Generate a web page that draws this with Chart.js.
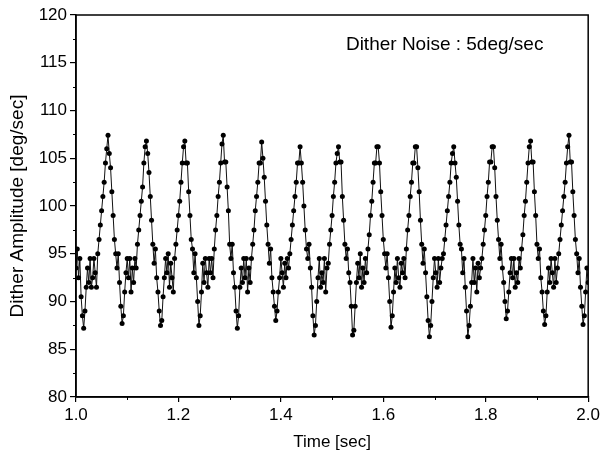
<!DOCTYPE html>
<html>
<head>
<meta charset="utf-8">
<script src="https://cdn.jsdelivr.net/npm/chart.js@4.4.1/dist/chart.umd.min.js"></script>
<style>
  html, body { margin: 0; padding: 0; background: #fff; }
  #wrap { width: 603px; height: 459px; }
</style>
</head>
<body>
<div id="wrap"><canvas id="ditherChart" width="603" height="459"></canvas></div>
<script>
// sampling grid of the record
var start_time = 1.0;
var sample_step = 0.0025;

// dither amplitude [deg/sec], one row per dither period
var amp_p1  = [93.5, 95.5, 92.5, 94.5, 90.5, 88.5, 87.2, 89, 91.5, 93.5, 92, 94.5, 91.5, 92.5, 94.5, 93, 91.5, 95, 96.5, 98, 99.5, 101, 102.5, 104.5, 106, 107.4, 105.5, 104, 101.5, 99];
var amp_p2  = [96.5, 95, 93.5, 95, 92, 89.5, 87.7, 88.5, 91, 93, 94.5, 92.5, 94.5, 91, 93.5, 92, 94.5, 93.5, 96, 97.5, 99, 100.5, 102, 104.5, 106.2, 106.8, 105.5, 103.5, 101, 98.5];
var amp_p3  = [96, 94, 95.5, 92.5, 91, 89, 87.5, 88, 90.5, 92.5, 94.5, 93, 95, 91.5, 94, 92.5, 91, 94.5, 96, 97.5, 99, 100.5, 102.5, 104.5, 106.2, 106.8, 104.5, 104.5, 101.5, 99];
var amp_p4  = [96.5, 95.5, 93, 95, 92.5, 90, 87.5, 88.5, 91, 94, 92, 94.5, 93, 91.5, 94.5, 93, 94.5, 92.5, 95.5, 97.5, 99, 101, 102.5, 104.5, 106.5, 107.4, 104.6, 104.6, 102, 99.5];
var amp_p5  = [96, 94.5, 96, 93, 91.5, 89, 87.2, 88.5, 91.5, 93.5, 92, 94.5, 92.5, 94.5, 91, 93.5, 92, 94.5, 96, 97.5, 99.5, 101, 102.5, 104.5, 104.5, 106.7, 105, 103, 100.5, 98];
var amp_p6  = [96, 94, 95.5, 92.5, 91, 89.5, 88, 89, 91, 92.5, 94.5, 93, 91.5, 94, 92.5, 94.5, 93.5, 95, 96.5, 98, 99.5, 101, 102.5, 104.5, 104.5, 106.2, 104.5, 102.5, 100, 97.5];
var amp_p7  = [95.5, 94.5, 96, 93.5, 91.5, 88.5, 86.5, 87.5, 90, 92.5, 94.5, 91.5, 93, 92, 94.5, 91, 93.5, 94, 96, 97.5, 99, 101, 102.5, 104.5, 105.5, 106.2, 104.6, 104.6, 101, 98.5];
var amp_p8  = [96, 94.5, 95.5, 93, 92, 89.5, 86.5, 87, 89.5, 92, 94, 92.5, 95, 91.5, 93.5, 92, 94.5, 93, 95.5, 97, 99, 100.5, 102.5, 104.5, 104.5, 106.2, 106.2, 104.5, 101.5, 99];
var amp_p9  = [96.5, 95, 93.5, 95, 92.5, 90, 87.3, 88.5, 91, 93.5, 92, 94.5, 92.5, 91.5, 94, 93, 94.5, 92.5, 95.5, 97.5, 99, 101, 102.5, 104.5, 104.5, 106.2, 106.2, 104, 101.5, 98.5];
var amp_p10 = [96, 94, 95.5, 93, 90.5, 88, 86.3, 87.5, 90, 92.5, 94.5, 93, 91.5, 94.5, 92, 93.5, 94.5, 95, 96.5, 98, 99.5, 101, 102.5, 104.5, 105.5, 106.2, 104.5, 103, 100.5, 98];
var amp_p11 = [96, 95.5, 93, 94.5, 91.5, 89, 86.3, 87.5, 89.5, 92, 94.5, 92, 93.5, 91, 94, 92.5, 93.5, 94.5, 96, 97.5, 99, 101, 102.5, 104.6, 104.6, 106.2, 106.2, 104, 101, 98.5];
var amp_p12 = [96.5, 94.5, 96, 93.5, 92, 90, 88.2, 89, 91, 93, 94.5, 92.5, 94.5, 91.5, 93, 92, 94.5, 93.5, 95.5, 97, 99, 100.5, 102.5, 104.5, 106.2, 106.8, 104.6, 104.6, 101.5, 99];
var amp_p13 = [96, 94.5, 95.5, 92.5, 91, 89, 87.6, 88.5, 91, 93.5, 92, 94.5, 93, 91.5, 94.5, 92, 93.5, 95, 96.5, 98, 99.5, 101, 102.5, 104.5, 106.2, 107.4, 104.6, 104.6, 101.5, 99];
var amp_p14 = [96.5, 95, 93, 94.5, 91.5, 89.5, 87.6, 88.5, 91, 93.5, 92];

var x_ticks = [1.0, 1.2, 1.4, 1.6, 1.8, 2.0];
var y_ticks = [80, 85, 90, 95, 100, 105, 110, 115, 120];
var note_text = "Dither Noise : 5deg/sec";

var amplitude = [].concat(amp_p1, amp_p2, amp_p3, amp_p4, amp_p5, amp_p6, amp_p7,
    amp_p8, amp_p9, amp_p10, amp_p11, amp_p12, amp_p13, amp_p14);
var points = amplitude.map(function(v, i) {
    return { x: start_time + i * sample_step, y: v };
});

var FONT = '"Liberation Sans", Arial, sans-serif';

// frame, minor ticks and the note
var framePlugin = {
    id: 'frame',
    afterDraw: function(chart) {
        var ctx = chart.ctx;
        var a = chart.chartArea;
        var xs = chart.scales.x, ys = chart.scales.y;
        ctx.save();
        ctx.strokeStyle = '#000';
        ctx.lineWidth = 1.5;
        ctx.strokeRect(a.left, a.top, a.right - a.left, a.bottom - a.top);
        ctx.lineWidth = 1;
        ctx.beginPath();
        for (var i = 0; i < x_ticks.length - 1; i++) {
            var px = Math.round(xs.getPixelForValue((x_ticks[i] + x_ticks[i + 1]) / 2)) + 0.5;
            ctx.moveTo(px, a.bottom);
            ctx.lineTo(px, a.bottom + 3);
        }
        for (var j = 0; j < y_ticks.length - 1; j++) {
            var py = Math.round(ys.getPixelForValue((y_ticks[j] + y_ticks[j + 1]) / 2)) + 0.5;
            ctx.moveTo(a.left, py);
            ctx.lineTo(a.left - 3, py);
        }
        ctx.stroke();
        ctx.fillStyle = '#000';
        ctx.font = '19px ' + FONT;
        ctx.textAlign = 'left';
        ctx.textBaseline = 'middle';
        ctx.fillText(note_text, xs.getPixelForValue(1.527), ys.getPixelForValue(116.9));
        ctx.restore();
    }
};

var ctxEl = document.getElementById('ditherChart').getContext('2d');
var ditherChart = new Chart(ctxEl, {
    type: 'line',
    data: {
        datasets: [{
            label: 'Dither amplitude',
            data: points,
            borderColor: '#111',
            borderWidth: 1,
            tension: 0,
            pointRadius: 2.5,
            pointBackgroundColor: '#000',
            pointBorderWidth: 0,
            fill: false
        }]
    },
    options: {
        responsive: false,
        animation: false,
        events: [],
        layout: { padding: { left: 0, top: 15, right: 12, bottom: 0 } },
        plugins: {
            legend: { display: false },
            tooltip: { enabled: false }
        },
        scales: {
            x: {
                type: 'linear',
                min: 1.0,
                max: 2.0,
                afterFit: function(s) { s.height = 62; },
                afterBuildTicks: function(s) { s.ticks = x_ticks.map(function(v) { return { value: v }; }); },
                ticks: {
                    color: '#000',
                    padding: 3,
                    font: { family: FONT, size: 17 },
                    callback: function(value) { return value.toFixed(1); }
                },
                grid: { drawOnChartArea: false, tickLength: 5, color: '#000', lineWidth: 1.2 },
                border: { display: true, color: '#000', width: 1.5 },
                title: {
                    display: true,
                    text: 'Time [sec]',
                    color: '#000',
                    font: { family: FONT, size: 17 },
                    padding: { top: 0, bottom: 6 }
                }
            },
            y: {
                min: 80,
                max: 120,
                afterFit: function(s) { s.width = 76; },
                afterBuildTicks: function(s) { s.ticks = y_ticks.map(function(v) { return { value: v }; }); },
                ticks: {
                    color: '#000',
                    padding: 3,
                    font: { family: FONT, size: 17 }
                },
                grid: { drawOnChartArea: false, tickLength: 6, color: '#000', lineWidth: 1.2 },
                border: { display: true, color: '#000', width: 1.5 },
                title: {
                    display: true,
                    text: 'Dither Amplitude [deg/sec]',
                    color: '#000',
                    font: { family: FONT, size: 19 },
                    padding: { top: 6, bottom: 0 }
                }
            }
        }
    },
    plugins: [framePlugin]
});
</script>
</body>
</html>
